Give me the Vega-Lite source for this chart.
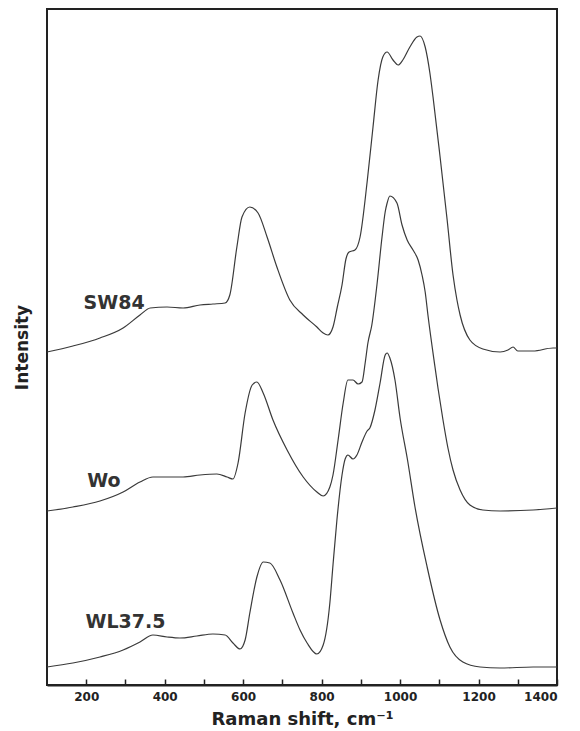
{
  "$schema": "https://vega.github.io/schema/vega-lite/v6.json",
  "width": 510,
  "height": 676,
  "autosize": {"type": "none"},
  "padding": {"left": 47, "top": 9, "right": 23, "bottom": 46},
  "background": "white",
  "config": {"view": {"stroke": "#222", "strokeWidth": 2}, "font": "DejaVu Sans"},
  "layer": [
    {
      "data": {"values": [
        {"s":"SW84","x":100,"y":333},{"s":"SW84","x":166,"y":339},{"s":"SW84","x":235,"y":347},{"s":"SW84","x":294,"y":357},{"s":"SW84","x":337,"y":370},{"s":"SW84","x":363,"y":377},{"s":"SW84","x":406,"y":378},{"s":"SW84","x":447,"y":377},{"s":"SW84","x":490,"y":380},{"s":"SW84","x":523,"y":381},{"s":"SW84","x":554,"y":382},{"s":"SW84","x":566,"y":390},{"s":"SW84","x":584,"y":438},{"s":"SW84","x":597,"y":468},{"s":"SW84","x":617,"y":478},{"s":"SW84","x":638,"y":472},{"s":"SW84","x":661,"y":448},{"s":"SW84","x":686,"y":418},{"s":"SW84","x":719,"y":385},{"s":"SW84","x":753,"y":370},{"s":"SW84","x":788,"y":358},{"s":"SW84","x":804,"y":352},{"s":"SW84","x":816,"y":350},{"s":"SW84","x":829,"y":358},{"s":"SW84","x":840,"y":378},{"s":"SW84","x":852,"y":400},{"s":"SW84","x":862,"y":426},{"s":"SW84","x":870,"y":433},{"s":"SW84","x":885,"y":435},{"s":"SW84","x":898,"y":448},{"s":"SW84","x":916,"y":503},{"s":"SW84","x":931,"y":558},{"s":"SW84","x":944,"y":605},{"s":"SW84","x":956,"y":628},{"s":"SW84","x":967,"y":633},{"s":"SW84","x":982,"y":625},{"s":"SW84","x":995,"y":620},{"s":"SW84","x":1007,"y":625},{"s":"SW84","x":1025,"y":638},{"s":"SW84","x":1043,"y":648},{"s":"SW84","x":1051,"y":649},{"s":"SW84","x":1064,"y":638},{"s":"SW84","x":1076,"y":612},{"s":"SW84","x":1084,"y":588},{"s":"SW84","x":1102,"y":528},{"s":"SW84","x":1120,"y":465},{"s":"SW84","x":1135,"y":410},{"s":"SW84","x":1145,"y":385},{"s":"SW84","x":1153,"y":370},{"s":"SW84","x":1178,"y":345},{"s":"SW84","x":1211,"y":336},{"s":"SW84","x":1255,"y":333},{"s":"SW84","x":1275,"y":335},{"s":"SW84","x":1288,"y":338},{"s":"SW84","x":1300,"y":334},{"s":"SW84","x":1339,"y":334},{"s":"SW84","x":1390,"y":337},{"s":"SW84","x":1400,"y":337},
        {"s":"Wo","x":100,"y":174},{"s":"Wo","x":166,"y":178},{"s":"Wo","x":235,"y":184},{"s":"Wo","x":294,"y":193},{"s":"Wo","x":337,"y":203},{"s":"Wo","x":370,"y":208},{"s":"Wo","x":414,"y":208},{"s":"Wo","x":447,"y":208},{"s":"Wo","x":490,"y":210},{"s":"Wo","x":533,"y":211},{"s":"Wo","x":559,"y":208},{"s":"Wo","x":574,"y":206},{"s":"Wo","x":587,"y":222},{"s":"Wo","x":605,"y":272},{"s":"Wo","x":623,"y":300},{"s":"Wo","x":635,"y":303},{"s":"Wo","x":651,"y":292},{"s":"Wo","x":676,"y":265},{"s":"Wo","x":712,"y":235},{"s":"Wo","x":753,"y":208},{"s":"Wo","x":788,"y":193},{"s":"Wo","x":804,"y":189},{"s":"Wo","x":821,"y":198},{"s":"Wo","x":829,"y":210},{"s":"Wo","x":842,"y":245},{"s":"Wo","x":855,"y":282},{"s":"Wo","x":867,"y":305},{"s":"Wo","x":880,"y":305},{"s":"Wo","x":893,"y":301},{"s":"Wo","x":903,"y":303},{"s":"Wo","x":911,"y":322},{"s":"Wo","x":918,"y":342},{"s":"Wo","x":928,"y":360},{"s":"Wo","x":941,"y":400},{"s":"Wo","x":954,"y":448},{"s":"Wo","x":962,"y":473},{"s":"Wo","x":967,"y":482},{"s":"Wo","x":974,"y":489},{"s":"Wo","x":992,"y":482},{"s":"Wo","x":1005,"y":460},{"s":"Wo","x":1018,"y":445},{"s":"Wo","x":1033,"y":435},{"s":"Wo","x":1046,"y":425},{"s":"Wo","x":1056,"y":410},{"s":"Wo","x":1064,"y":393},{"s":"Wo","x":1071,"y":370},{"s":"Wo","x":1089,"y":318},{"s":"Wo","x":1097,"y":296},{"s":"Wo","x":1109,"y":266},{"s":"Wo","x":1122,"y":237},{"s":"Wo","x":1135,"y":215},{"s":"Wo","x":1153,"y":195},{"s":"Wo","x":1178,"y":180},{"s":"Wo","x":1211,"y":175},{"s":"Wo","x":1255,"y":174},{"s":"Wo","x":1339,"y":175},{"s":"Wo","x":1400,"y":177},
        {"s":"WL37.5","x":100,"y":18},{"s":"WL37.5","x":166,"y":22},{"s":"WL37.5","x":235,"y":28},{"s":"WL37.5","x":294,"y":35},{"s":"WL37.5","x":337,"y":43},{"s":"WL37.5","x":370,"y":50},{"s":"WL37.5","x":406,"y":48},{"s":"WL37.5","x":439,"y":47},{"s":"WL37.5","x":482,"y":49},{"s":"WL37.5","x":523,"y":51},{"s":"WL37.5","x":554,"y":50},{"s":"WL37.5","x":574,"y":42},{"s":"WL37.5","x":592,"y":36},{"s":"WL37.5","x":605,"y":45},{"s":"WL37.5","x":617,"y":72},{"s":"WL37.5","x":635,"y":108},{"s":"WL37.5","x":651,"y":123},{"s":"WL37.5","x":668,"y":122},{"s":"WL37.5","x":694,"y":105},{"s":"WL37.5","x":727,"y":72},{"s":"WL37.5","x":745,"y":55},{"s":"WL37.5","x":763,"y":42},{"s":"WL37.5","x":788,"y":31},{"s":"WL37.5","x":804,"y":40},{"s":"WL37.5","x":821,"y":82},{"s":"WL37.5","x":829,"y":120},{"s":"WL37.5","x":839,"y":165},{"s":"WL37.5","x":852,"y":210},{"s":"WL37.5","x":860,"y":226},{"s":"WL37.5","x":867,"y":230},{"s":"WL37.5","x":880,"y":226},{"s":"WL37.5","x":890,"y":230},{"s":"WL37.5","x":903,"y":243},{"s":"WL37.5","x":916,"y":254},{"s":"WL37.5","x":923,"y":257},{"s":"WL37.5","x":936,"y":275},{"s":"WL37.5","x":949,"y":302},{"s":"WL37.5","x":962,"y":330},{"s":"WL37.5","x":967,"y":332},{"s":"WL37.5","x":974,"y":327},{"s":"WL37.5","x":987,"y":305},{"s":"WL37.5","x":1000,"y":267},{"s":"WL37.5","x":1019,"y":225},{"s":"WL37.5","x":1038,"y":178},{"s":"WL37.5","x":1069,"y":118},{"s":"WL37.5","x":1102,"y":65},{"s":"WL37.5","x":1127,"y":38},{"s":"WL37.5","x":1160,"y":23},{"s":"WL37.5","x":1204,"y":18},{"s":"WL37.5","x":1255,"y":17},{"s":"WL37.5","x":1339,"y":18},{"s":"WL37.5","x":1400,"y":18}
      ]},
      "mark": {"type": "line", "interpolate": "monotone", "color": "#3a3a3a", "strokeWidth": 1.2},
      "encoding": {
        "x": {"field": "x", "type": "quantitative", "scale": {"domain": [100, 1400], "nice": false},
          "axis": {"values": [200,300,400,500,600,700,800,900,1000,1100,1200,1300,1400],
            "labelExpr": "datum.value % 200 == 0 ? datum.label : ''",
            "format": "d", "grid": false, "tickSize": -6, "tickColor": "#222", "tickWidth": 1.5,
            "domainColor": "#222", "domainWidth": 2,
            "labelFont": "DejaVu Sans", "labelFontWeight": "bold", "labelFontSize": 12, "labelColor": "#222", "labelPadding": 12,
            "title": "Raman shift, cm⁻¹", "titleFont": "DejaVu Sans", "titleFontWeight": "bold", "titleFontSize": 18, "titleColor": "#222", "titlePadding": 8}},
        "y": {"field": "y", "type": "quantitative", "scale": {"domain": [0, 676], "nice": false},
          "axis": {"ticks": false, "labels": false, "domain": false, "grid": false,
            "title": "Intensity", "titleFont": "DejaVu Sans", "titleFontWeight": "bold", "titleFontSize": 17, "titleColor": "#222", "titlePadding": 16}},
        "detail": {"field": "s"}
      }
    },
    {
      "data": {"values": [
        {"label": "SW84", "x": 271, "y": 382},
        {"label": "Wo", "x": 245, "y": 204},
        {"label": "WL37.5", "x": 300, "y": 63}
      ]},
      "mark": {"type": "text", "font": "DejaVu Sans", "fontWeight": "bold", "fontSize": 19, "color": "#333", "align": "center", "baseline": "middle"},
      "encoding": {
        "x": {"field": "x", "type": "quantitative"},
        "y": {"field": "y", "type": "quantitative"},
        "text": {"field": "label"}
      }
    }
  ]
}
